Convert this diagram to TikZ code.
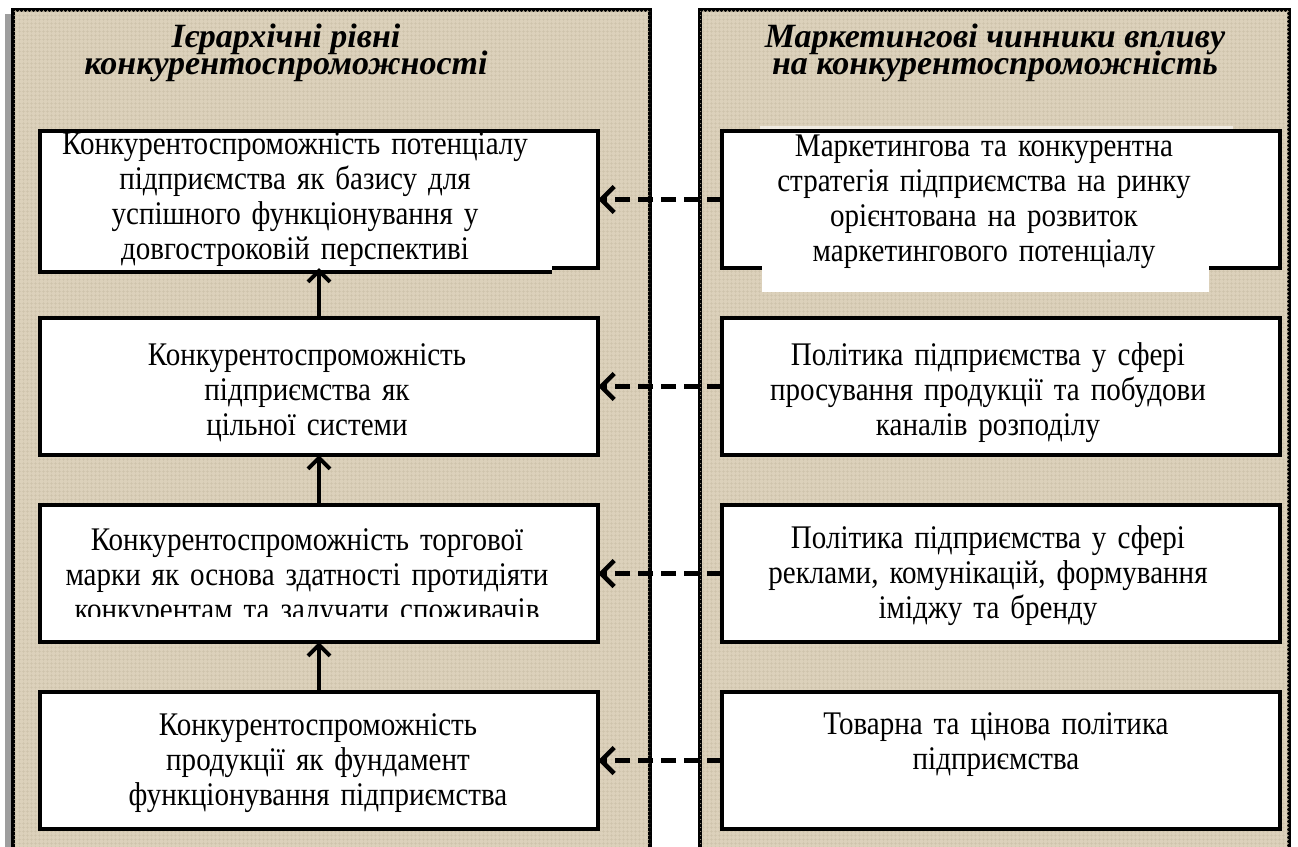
\documentclass[tikz,border=0pt]{standalone}
\usepackage{fontspec}
\setmainfont{Liberation Serif}[FakeStretch=0.88]
\newfontfamily\headfont{Liberation Serif}
\definecolor{linen1}{RGB}{220, 209, 187}
\definecolor{linen2}{RGB}{206, 195, 171}
\definecolor{shade1}{RGB}{158, 158, 158}
\usetikzlibrary{shapes, arrows.meta, positioning, calc, patterns.meta}

\tikzset{
  panel/.style={draw=black, line width=4.5pt, fill=linen1,
    postaction={pattern={Hatch[angle=0, distance=4pt, line width=0.7pt]}, pattern color=linen2}},
  paneltitle/.style={align=center, inner sep=0pt,
    execute at begin node={\setlength{\lineskiplimit}{-30pt}},
    font=\headfont\fontsize{34pt}{27pt}\selectfont\bfseries\itshape},
  levelbox/.style={draw=black, line width=4pt, fill=white, outer sep=0pt,
    minimum width=558pt, minimum height=137pt, inner sep=0pt},
  boxtext/.style={align=center, inner sep=0pt, text width=556pt,
    font=\fontsize{33pt}{35pt}\selectfont},
  uparrow/.style={line width=4pt, -{Straight Barb[length=11pt, width=22pt, line width=4pt]}},
  sidearrow/.style={line width=5pt, dash pattern=on 15pt off 8pt,
    -{Straight Barb[length=13pt, width=26pt, line width=4.5pt]}}
}

\begin{document}
\begin{tikzpicture}[x=1pt, y=-1pt, node distance=50pt and 124pt]
  \useasboundingbox (0,0) rectangle (1298,846);
  \clip (0,0) rectangle (1298,846);

  \fill[shade1] (5,14) rectangle (11,860);
  \draw[panel] (13,10) rectangle (650,880);
  \draw[panel] (700,10) rectangle (1289,880);

  \node[paneltitle] (ltitle) at (286,53) {Ієрархічні рівні\\конкурентоспроможності};
  \node[paneltitle] (rtitle) at (995,53) {Маркетингові чинники впливу\\на конкурентоспроможність};

  \node[levelbox] (l1) at (319,199.5) {};
  \node[levelbox, below=of l1] (l2) {};
  \node[levelbox, below=of l2] (l3) {};
  \node[levelbox, below=of l3] (l4) {};
  \node[levelbox, right=of l1] (r1) {};
  \node[levelbox, right=of l2] (r2) {};
  \node[levelbox, right=of l3] (r3) {};
  \node[levelbox, right=of l4] (r4) {};

  \fill[white] ($(l1.south west)+(2,-3)$) rectangle ($(l1.south west)+(512,2.5)$);
  \draw[line width=4pt] ($(l1.south west)+(-2,4)$) -- ($(l1.south west)+(512,4)$);
  \fill[white, opacity=0.6] ($(r1.north west)+(38,-5)$) rectangle ($(r1.north west)+(511,-2.5)$);
  \fill[white] ($(r1.south west)+(40,-4)$) rectangle ($(r1.south west)+(487,24)$);

  \node[boxtext, xshift=-24pt] (l1txt) at (l1) {Конкурентоспроможність потенціалу\\підприємства як базису для\\успішного функціонування у\\довгостроковій перспективі};
  \node[boxtext, xshift=-12pt, yshift=-6pt] (l2txt) at (l2) {Конкурентоспроможність\\підприємства як\\цільної системи};
  \node[boxtext, xshift=-12pt, yshift=-5pt] (l3txt) at (l3) {Конкурентоспроможність торгової\\марки як основа здатності протидіяти\\конкурентам та залучати споживачів};
  \node[boxtext, xshift=-1pt, yshift=-3pt] (l4txt) at (l4) {Конкурентоспроможність\\продукції як фундамент\\функціонування підприємства};
  \node[boxtext, xshift=-17pt, yshift=-2pt] (r1txt) at (r1) {Маркетингова та конкурентна\\стратегія підприємства на ринку\\орієнтована на розвиток\\маркетингового потенціалу};
  \node[boxtext, xshift=-13pt, yshift=-6pt] (r2txt) at (r2) {Політика підприємства у сфері\\просування продукції та побудови\\каналів розподілу};
  \node[boxtext, xshift=-13pt, yshift=-2pt] (r3txt) at (r3) {Політика підприємства у сфері\\реклами, комунікацій, формування\\іміджу та бренду};
  \node[boxtext, xshift=-5pt, yshift=2pt] (r4txt) at (r4) {Товарна та цінова політика\\підприємства\\\mbox{}};

  \fill[white] ($(l3.south west)+(2,-25)$) rectangle ($(l3.south east)+(-2,-2)$);

  \draw[uparrow] (l2) -- (l1);
  \draw[uparrow] (l3) -- (l2);
  \draw[uparrow] (l4) -- (l3);

  \draw[sidearrow] (r1) -- (l1);
  \draw[sidearrow] (r2) -- (l2);
  \draw[sidearrow] (r3) -- (l3);
  \draw[sidearrow] (r4) -- (l4);
\end{tikzpicture}
\end{document}
